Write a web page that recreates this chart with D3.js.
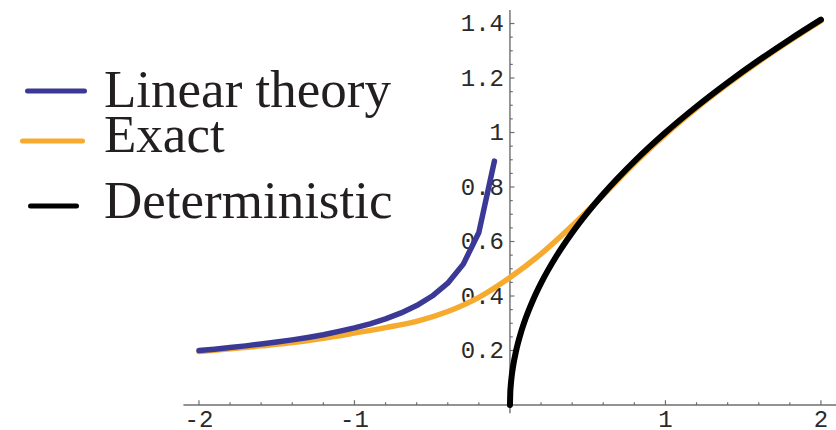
<!DOCTYPE html>
<html>
<head>
<meta charset="utf-8">
<script src="https://cdn.jsdelivr.net/npm/d3@7"></script>
<style>
  html, body { margin: 0; padding: 0; background: #fff; }
  svg { display: block; }
</style>
</head>
<body>
<svg id="chart" width="836" height="430"></svg>
<script>
// Linear theory (defined for x < 0 only)
const linearX = [-2.0, -1.9, -1.8, -1.7, -1.6, -1.5, -1.4, -1.3, -1.2, -1.1, -1.0,
                 -0.9, -0.8, -0.7, -0.6, -0.5, -0.4, -0.3, -0.2, -0.1];
const linearY = [0.200, 0.205, 0.211, 0.217, 0.224, 0.231, 0.239, 0.248, 0.258, 0.270, 0.283,
                 0.298, 0.316, 0.338, 0.365, 0.400, 0.447, 0.517, 0.633, 0.895];

// Exact solution
const exactX = [-2.0, -1.8, -1.6, -1.4, -1.2, -1.0, -0.8, -0.6, -0.4, -0.2, 0.0,
                0.2, 0.4, 0.6, 0.8, 1.0, 1.2, 1.4, 1.6, 1.8, 2.0];
const exactY = [0.196, 0.206, 0.217, 0.229, 0.245, 0.264, 0.284, 0.307, 0.343, 0.395, 0.468,
                0.555, 0.658, 0.770, 0.887, 0.993, 1.090, 1.178, 1.260, 1.337, 1.410];

// Deterministic solution (x >= 0)
const detX = [0, 0.002, 0.005, 0.01, 0.02, 0.04, 0.07, 0.1, 0.15, 0.2, 0.3, 0.4, 0.5,
              0.6, 0.8, 1.0, 1.2, 1.4, 1.6, 1.8, 2.0];
const detY = [0, 0.0447, 0.0707, 0.1, 0.1414, 0.2, 0.2646, 0.3162, 0.3873, 0.4472, 0.5477,
              0.6325, 0.7071, 0.7746, 0.8944, 1.0, 1.0954, 1.1832, 1.2649, 1.3416, 1.4142];

const xTickValues = [-2, -1, 1, 2];
const xTickLabels = ["-2", "-1", "1", "2"];
const yTickValues = [0.2, 0.4, 0.6, 0.8, 1.0, 1.2, 1.4];
const yTickLabels = ["0.2", "0.4", "0.6", "0.8", "1", "1.2", "1.4"];

const legendNames = ["Linear theory", "Exact", "Deterministic"];
const seriesColors = ["#3b3996", "#f6aa2e", "#000000"];

const svg = d3.select("#chart");
const x = d3.scaleLinear().domain([-2.1, 2.1]).range([183.4, 836.5]);
const y = d3.scaleLinear().domain([0, 1.45]).range([405, 9.9]);

const axisColor = "#6e6e6e";
const labelColor = "#2a2a2a";
const mono = "'Liberation Mono', 'DejaVu Sans Mono', monospace";

// x axis: line along y = 0, ticks pointing up
const gx = svg.append("g");
gx.append("line")
  .attr("x1", x(-2.1)).attr("x2", x(2.1))
  .attr("y1", y(0)).attr("y2", y(0))
  .attr("stroke", axisColor).attr("stroke-width", 1.4);
const xMinor = d3.range(-20, 21, 2).map(v => v / 10).filter(v => Math.abs(v) > 1e-9);
gx.selectAll("line.tick").data(xMinor).join("line")
  .attr("class", "tick")
  .attr("x1", d => x(d)).attr("x2", d => x(d))
  .attr("y1", y(0))
  .attr("y2", d => y(0) - (Math.abs(d - Math.round(d)) < 1e-9 ? 4.8 : 2.8))
  .attr("stroke", axisColor).attr("stroke-width", 1.2);
gx.selectAll("text").data(xTickValues).join("text")
  .attr("x", d => x(d)).attr("y", 427)
  .attr("text-anchor", "middle")
  .attr("font-family", mono).attr("font-size", 24)
  .attr("fill", labelColor)
  .text((d, i) => xTickLabels[i]);

// y axis: line along x = 0, ticks pointing right
const gy = svg.append("g");
gy.append("line")
  .attr("x1", x(0)).attr("x2", x(0))
  .attr("y1", y(-0.03)).attr("y2", y(1.45))
  .attr("stroke", axisColor).attr("stroke-width", 1.4);
const yMinor = d3.range(1, 29).map(v => v * 0.05);
gy.selectAll("line.tick").data(yMinor).join("line")
  .attr("class", "tick")
  .attr("y1", d => y(d)).attr("y2", d => y(d))
  .attr("x1", x(0))
  .attr("x2", d => x(0) + (Math.abs(d * 5 - Math.round(d * 5)) < 1e-6 ? 4.5 : 2.8))
  .attr("stroke", axisColor).attr("stroke-width", 1.2);
gy.selectAll("text").data(yTickValues).join("text")
  .attr("x", 504).attr("y", d => y(d) + 7.5)
  .attr("text-anchor", "end")
  .attr("font-family", mono).attr("font-size", 24)
  .attr("fill", labelColor)
  .text((d, i) => yTickLabels[i]);

// curves
const smooth = d3.line().x(d => x(d[0])).y(d => y(d[1])).curve(d3.curveMonotoneX);
const straight = d3.line().x(d => x(d[0])).y(d => y(d[1]));

const exactPts = exactX.map((v, i) => [v, exactY[i]]);
const linearPts = linearX.map((v, i) => [v, linearY[i]]);
const detPts = detX.map((v, i) => [v, detY[i]]);

svg.append("path").attr("d", smooth(exactPts))
  .attr("fill", "none").attr("stroke", seriesColors[1])
  .attr("stroke-width", 5.5).attr("stroke-linecap", "round").attr("stroke-linejoin", "round");
svg.append("path").attr("d", straight(linearPts))
  .attr("fill", "none").attr("stroke", seriesColors[0])
  .attr("stroke-width", 5.5).attr("stroke-linecap", "round").attr("stroke-linejoin", "round");
svg.append("path").attr("d", smooth(detPts))
  .attr("fill", "none").attr("stroke", seriesColors[2])
  .attr("stroke-width", 6).attr("stroke-linecap", "round").attr("stroke-linejoin", "round");

// legend
const legendRows = [
  { line: [27.5, 84.5], ly: 91, ty: 107 },
  { line: [22.5, 82.5], ly: 141, ty: 152 },
  { line: [30.5, 76.5], ly: 206, ty: 218 }
];
const lg = svg.append("g");
legendRows.forEach((r, i) => {
  lg.append("line")
    .attr("x1", r.line[0]).attr("x2", r.line[1])
    .attr("y1", r.ly).attr("y2", r.ly)
    .attr("stroke", seriesColors[i]).attr("stroke-width", 5)
    .attr("stroke-linecap", "round");
  lg.append("text")
    .attr("x", 104).attr("y", r.ty)
    .attr("font-family", "'Liberation Serif', 'DejaVu Serif', serif")
    .attr("font-size", 53)
    .attr("fill", "#231f20")
    .text(legendNames[i]);
});
</script>
</body>
</html>
